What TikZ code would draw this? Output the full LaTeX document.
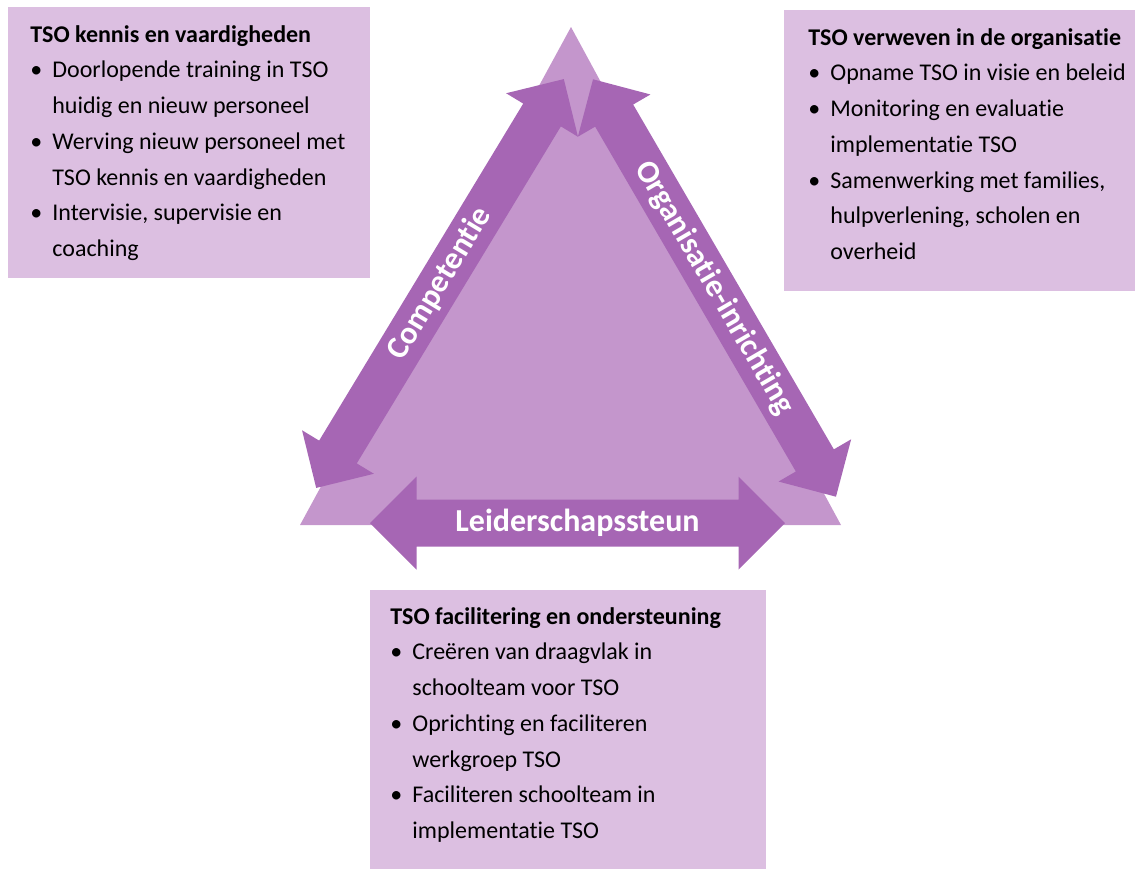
\documentclass[tikz,border=0pt]{standalone}
\usepackage{fontspec}
\setmainfont[Ligatures = NoCommon]{Carlito}
\usetikzlibrary{positioning}
\definecolor{tsoshade}{HTML}{C496CC}
\definecolor{tsodark}{HTML}{A666B4}
\definecolor{tsolight}{HTML}{DCBFE1}
\tikzset{x = 0.5pt, y = -0.5pt,
         tsobox/.style = {fill = tsolight, inner sep = 0pt, outer sep = 0pt,
                          anchor = north west},
         tsotext/.style = {inner sep = 0pt, align = left,
                           font = \fontsize{12}{17.85}\selectfont},
         tsolabel/.style = {text = white, inner sep = 0pt,
                            font = \bfseries\fontsize{16}{18}\selectfont}}
\newcommand{\tsobul}{\makebox[11pt][l]{\textbullet}}
\newcommand{\tsoind}{\hspace*{11pt}}
% #1 centre, #2 angle, #3 half length, #4 head, #5 half shaft, #6 name, #7 label
\newcommand{\tsoarrow}[7]{%
  \begin{scope}[shift = {#1}, rotate = #2]
    \fill[tsodark] (-#3,0) -- (-#3+#4,#4) -- (-#3+#4,#5) -- (#3-#4,#5)
                   -- (#3-#4,#4) -- (#3,0) -- (#3-#4,-#4) -- (#3-#4,-#5)
                   -- (-#3+#4,-#5) -- (-#3+#4,-#4) -- cycle;
    \node[tsolabel, rotate = #2] (#6) at (0,0) {#7};
  \end{scope}}

\begin{document}
\begin{tikzpicture}
        \useasboundingbox (0,0) rectangle (1135,869);

        \coordinate (apex) at (571,27);
        \coordinate (lft)  at (300,525);
        \coordinate (rgt)  at (841,525);
        \fill[tsoshade] (apex) -- (lft) -- (rgt) -- cycle;

        \tsoarrow{(440,283.5)}{58.8}{239}{42}{22}{comp}{Competentie}
        \tsoarrow{(714.5,288)}{-59.8}{241.5}{42}{22}{org}{Organisatie-inrichting}
        \tsoarrow{(577.5,523)}{0}{207.5}{46.5}{23.5}{leid}{Leiderschapssteun}

        \node[tsobox, minimum width = 181pt, minimum height = 135.5pt]   (kennis)  at (8,7)    {};
        \node[tsobox, minimum width = 175.5pt, minimum height = 140.5pt] (verweef) at (784,10)  {};
        \node[tsobox, minimum width = 198pt, minimum height = 139.5pt]   (facil)   at (370,590) {};

        \node[tsotext, below right = 9pt and 11pt of kennis.north west] (kennistxt)
          {\textbf{TSO kennis en vaardigheden}\\
           \tsobul Doorlopende training in TSO\\
           \tsoind huidig en nieuw personeel\\
           \tsobul Werving nieuw personeel met\\
           \tsoind TSO kennis en vaardigheden\\
           \tsobul Intervisie, supervisie en\\
           \tsoind coaching};
        \node[tsotext, below right = 9pt and 12pt of verweef.north west] (verweeftxt)
          {\textbf{TSO verweven in de organisatie}\\
           \tsobul Opname TSO in visie en beleid\\
           \tsobul Monitoring en evaluatie\\
           \tsoind implementatie TSO\\
           \tsobul Samenwerking met families,\\
           \tsoind hulpverlening, scholen en\\
           \tsoind overheid};
        \node[tsotext, below right = 8.5pt and 10pt of facil.north west] (faciltxt)
          {\textbf{TSO facilitering en ondersteuning}\\
           \tsobul Creëren van draagvlak in\\
           \tsoind schoolteam voor TSO\\
           \tsobul Oprichting en faciliteren\\
           \tsoind werkgroep TSO\\
           \tsobul Faciliteren schoolteam in\\
           \tsoind implementatie TSO};
    \end{tikzpicture}
\end{document}
